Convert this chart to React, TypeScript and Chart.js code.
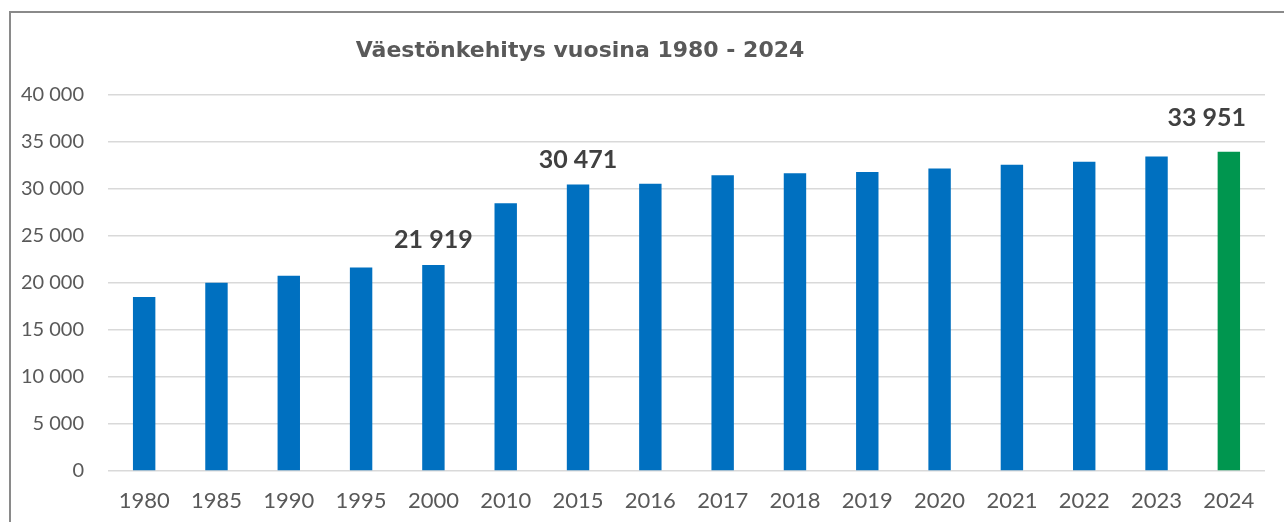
import React, { useEffect, useRef } from "react";
import { Chart, registerables } from "chart.js";

Chart.register(...registerables);

const years = ["1980", "1985", "1990", "1995", "2000", "2010", "2015", "2016", "2017", "2018", "2019", "2020", "2021", "2022", "2023", "2024"];
const population = [18500, 20030, 20780, 21660, 21919, 28480, 30471, 30570, 31450, 31670, 31810, 32170, 32590, 32910, 33470, 33951];
const labelledYears = ["2000", "2015", "2024"];
const titleText = "Väestönkehitys vuosina 1980 - 2024";
const yTicks = [0, 5000, 10000, 15000, 20000, 25000, 30000, 35000, 40000];

const BLUE = "#0070C0";
const GREEN = "#00964F";
const FONT = "Lato, 'Open Sans', sans-serif";
const TITLE_FONT = "'DejaVu Sans', sans-serif";

const fmt = (v: number) => String(Math.round(v)).replace(/\B(?=(\d{3})+(?!\d))/g, " ");

const titlePlugin = {
  id: "customTitle",
  afterDraw(chart: any) {
    const ctx = chart.ctx;
    ctx.save();
    ctx.font = `bold 22px ${TITLE_FONT}`;
    ctx.fillStyle = "#595959";
    ctx.textAlign = "center";
    ctx.textBaseline = "alphabetic";
    const ca = chart.chartArea;
    const x = ca.left + (ca.right - ca.left) * 0.408;
    ctx.fillText(titleText, x, 57);
    ctx.restore();
  },
};

const valueLabelPlugin = {
  id: "valueLabels",
  afterDatasetsDraw(chart: any) {
    const ctx = chart.ctx;
    const meta = chart.getDatasetMeta(0);
    const ca = chart.chartArea;
    ctx.save();
    ctx.font = `bold 25px ${FONT}`;
    ctx.fillStyle = "#404040";
    ctx.textAlign = "center";
    ctx.textBaseline = "alphabetic";
    years.forEach((yr, i) => {
      if (!labelledYears.includes(yr)) return;
      const el = meta.data[i];
      const text = fmt(population[i]);
      const w = ctx.measureText(text).width;
      let x = el.x;
      let dy = 17;
      const maxRight = ca.right - 19;
      if (x + w / 2 > maxRight) {
        x = maxRight - w / 2;
        dy = 26;
      }
      ctx.fillText(text, x, el.y - dy);
    });
    ctx.restore();
  },
};

export default function App() {
  const ref = useRef<HTMLCanvasElement | null>(null);

  useEffect(() => {
    if (!ref.current) return;
    const chart = new Chart(ref.current, {
      type: "bar",
      data: {
        labels: years,
        datasets: [
          {
            data: population,
            backgroundColor: years.map((y, i) => (i === years.length - 1 ? GREEN : BLUE)),
            barPercentage: 0.31,
            categoryPercentage: 1,
            borderWidth: 0,
          },
        ],
      },
      options: {
        responsive: false,
        animation: false,
        maintainAspectRatio: false,
        layout: { padding: { top: 95, right: 19, bottom: 0, left: 0 } },
        plugins: {
          legend: { display: false },
          title: { display: false },
          tooltip: { enabled: false },
        },
        scales: {
          x: {
            grid: { display: false, drawTicks: false },
            border: { display: false },
            ticks: {
              color: "#595959",
              font: { family: FONT, size: 22 },
              padding: 17,
              maxRotation: 0,
              autoSkip: false,
            },
            afterFit: (scale: any) => {
              scale.height = 51;
            },
          },
          y: {
            min: 0,
            max: 40000,
            afterBuildTicks: (scale: any) => {
              scale.ticks = yTicks.map((v) => ({ value: v }));
            },
            grid: { color: "#D9D9D9", lineWidth: 1.5, drawTicks: false },
            border: { display: false },
            ticks: {
              color: "#595959",
              font: { family: FONT, size: 20 },
              padding: 24,
              callback: (v: any) => fmt(Number(v)),
            },
            afterFit: (scale: any) => {
              scale.width = 108;
            },
          },
        },
      },
      plugins: [titlePlugin, valueLabelPlugin],
    });
    return () => chart.destroy();
  }, []);

  return (
    <div style={{ position: "fixed", left: 0, top: 0, width: 1284, height: 522, overflow: "hidden", background: "#fff" }}>
      <canvas ref={ref} width={1284} height={522} style={{ position: "absolute", left: 0, top: 0, width: 1284, height: 522 }} />
      <div
        style={{
          position: "absolute",
          left: 9,
          top: 11,
          width: 1400,
          height: 700,
          border: "2px solid #8A8A8A",
          pointerEvents: "none",
        }}
      />
    </div>
  );
}
